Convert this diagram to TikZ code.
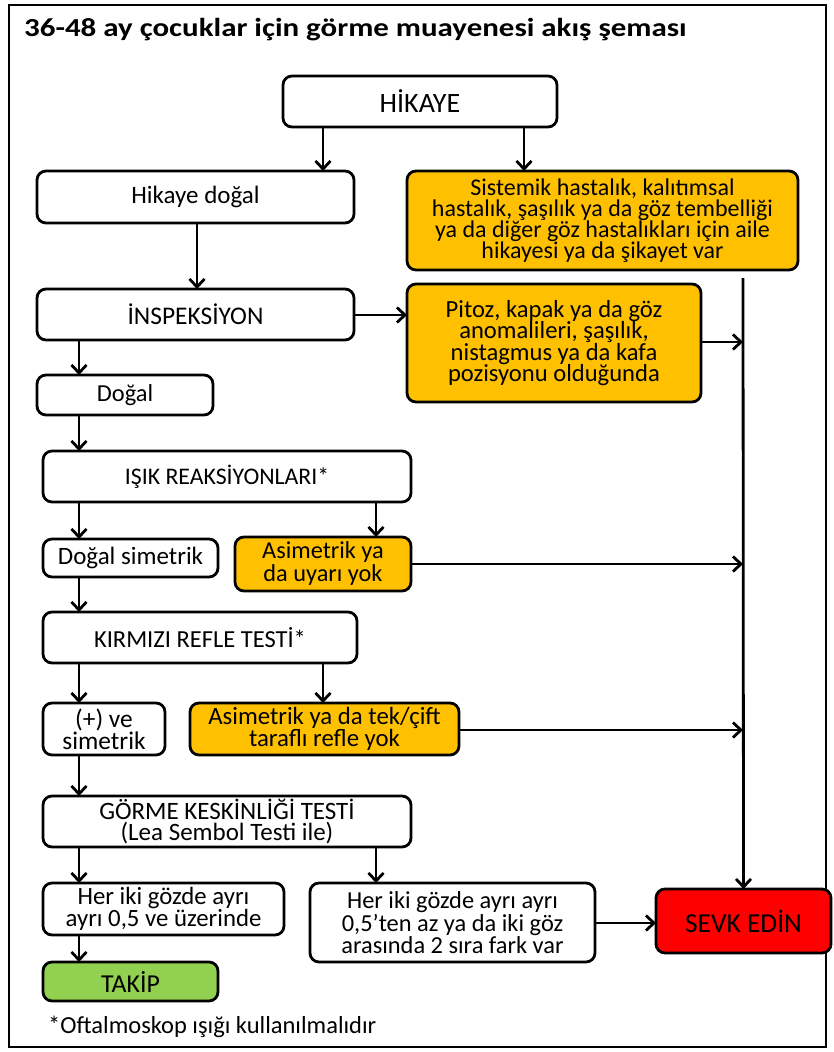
\documentclass[tikz,border=0pt]{standalone}
\usepackage{fontspec}
\setmainfont{Carlito}
\usetikzlibrary{arrows.meta}
\definecolor{orng}{HTML}{FFC000}
\definecolor{grn}{HTML}{92D050}
\definecolor{rd}{HTML}{FF0000}
\newcommand\fs[2]{\fontsize{#1}{#2}\selectfont}
\begin{document}
\begin{tikzpicture}[x=1pt,y=-1pt,
  box/.style={draw=black, line width=2.8pt, rounded corners=9pt, fill=white,
    anchor=north west, inner sep=0pt, outer sep=0pt, align=center,
    font=\fs{24.8}{21}},
  obox/.style={box, fill=orng},
  arr/.style={line width=2.8pt, -{Straight Barb[length=8pt,width=15pt]}},
]
\useasboundingbox (0,0) rectangle (834,1052);
\draw[line width=2.5pt] (9,5) rectangle (826,1047);
\node[anchor=base west, inner sep=0pt, font=\fs{26}{30}\bfseries] (title) at (24,36) {\scalebox{1.19}[1]{36-48 ay çocuklar için görme muayenesi akış şeması}};

\node[box, font=\fs{28}{30}, minimum width=274pt, minimum height=51pt] (hik) at (283,76) {HİKAYE};
\node[box, font=\fs{25}{21}, minimum width=317pt, minimum height=52pt] (hd) at (37,171) {Hikaye doğal};
\node[obox, font=\fs{24}{21.2}, minimum width=391pt, minimum height=99pt] (sis) at (407,171) {Sistemik hastalık, kalıtımsal\\hastalık, şaşılık ya da göz tembelliği\\ya da diğer göz hastalıkları için aile\\hikayesi ya da şikayet var};
\node[box, font=\fs{25.4}{21}, minimum width=317pt, minimum height=51pt] (insp) at (37,289) {İNSPEKSİYON};
\node[obox, font=\fs{24.6}{21.5}, minimum width=294pt, minimum height=118pt] (pit) at (407,284) {Pitoz, kapak ya da göz\\anomalileri, şaşılık,\\nistagmus ya da kafa\\pozisyonu olduğunda};
\node[box, font=\fs{24.4}{21}, minimum width=176pt, minimum height=40pt] (dog) at (37,375) {Doğal};
\node[box, font=\fs{23.8}{21}, minimum width=368pt, minimum height=51pt] (isik) at (43,451) {IŞIK REAKSİYONLARI*};
\node[box, font=\fs{25}{21}, minimum width=175pt, minimum height=38pt] (dsim) at (43,539) {Doğal simetrik};
\node[obox, font=\fs{24.3}{23}, minimum width=176pt, minimum height=54pt] (asim1) at (235,537) {Asimetrik ya\\da uyarı yok};
\node[box, font=\fs{24.5}{21}, minimum width=314pt, minimum height=51pt] (kir) at (43,612) {KIRMIZI REFLE TESTİ*};
\node[box, font=\fs{25.4}{18.5}, minimum width=122pt, minimum height=52pt] (pos) at (43,703) {(+) ve\\simetrik};
\node[obox, font=\fs{24.8}{18.5}, minimum width=269pt, minimum height=52pt] (asim2) at (190,703) {Asimetrik ya da tek/çift\\taraflı refle yok};
\node[box, font=\fs{25}{21.5}, minimum width=368pt, minimum height=51pt] (gor) at (43,796) {GÖRME KESKİNLİĞİ TESTİ\\(Lea Sembol Testi ile)};
\node[box, font=\fs{24.8}{17.5}, minimum width=241pt, minimum height=52pt] (ok) at (43,883) {Her iki gözde ayrı\\ayrı 0,5 ve üzerinde};
\node[box, font=\fs{24.4}{19}, minimum width=285pt, minimum height=79pt] (az) at (310,883) {Her iki gözde ayrı ayrı\\0,5’ten az ya da iki göz\\arasında 2 sıra fark var};
\node[box, fill=rd, font=\fs{27.4}{30}, minimum width=175pt, minimum height=64pt] (sevk) at (656,889) {SEVK EDİN};
\node[box, fill=grn, font=\fs{25.8}{30}, minimum width=175pt, minimum height=39pt] (takip) at (43,962) {TAKİP};
\node[anchor=west, inner sep=0pt, font=\fs{24.5}{26}] (note) at (48,1027) {*Oftalmoskop ışığı kullanılmalıdır};

% x positions
\coordinate (xa) at (323,0);
\coordinate (xb) at (524,0);
\coordinate (xc) at (197,0);
\coordinate (xd) at (79,0);
\coordinate (xe) at (376,0);
% collector line
\coordinate (vtop) at (743,278);
\coordinate (j1) at (743,342);
\coordinate (j2) at (743,564);
\coordinate (j3) at (743,730);
\coordinate (yi) at (0,315);
\coordinate (ys) at (0,923);

\draw[arr] (hik.south -| xa) -- (hd.north -| xa);
\draw[arr] (hik.south -| xb) -- (sis.north -| xb);
\draw[arr] (hd.south -| xc) -- (insp.north -| xc);
\draw[arr] (insp.east |- yi) -- (pit.west |- yi);
\draw[arr] (vtop) -- (sevk.north);
\draw[arr] (pit.east |- j1) -- (j1);
\draw[arr] (insp.south -| xd) -- (dog.north -| xd);
\draw[arr] (dog.south -| xd) -- (isik.north -| xd);
\draw[arr] (isik.south -| xd) -- (dsim.north -| xd);
\draw[arr] (isik.south -| xe) -- (asim1.north -| xe);
\draw[arr] (asim1.east |- j2) -- (j2);
\draw[arr] (dsim.south -| xd) -- (kir.north -| xd);
\draw[arr] (kir.south -| xd) -- (pos.north -| xd);
\draw[arr] (kir.south -| xa) -- (asim2.north -| xa);
\draw[arr] (asim2.east |- j3) -- (j3);
\draw[arr] (pos.south -| xd) -- (gor.north -| xd);
\draw[arr] (gor.south -| xd) -- (ok.north -| xd);
\draw[arr] (gor.south -| xe) -- (az.north -| xe);
\draw[arr] (ok.south -| xd) -- (takip.north -| xd);
\draw[arr] (az.east |- ys) -- (sevk.west |- ys);
\end{tikzpicture}
\end{document}
